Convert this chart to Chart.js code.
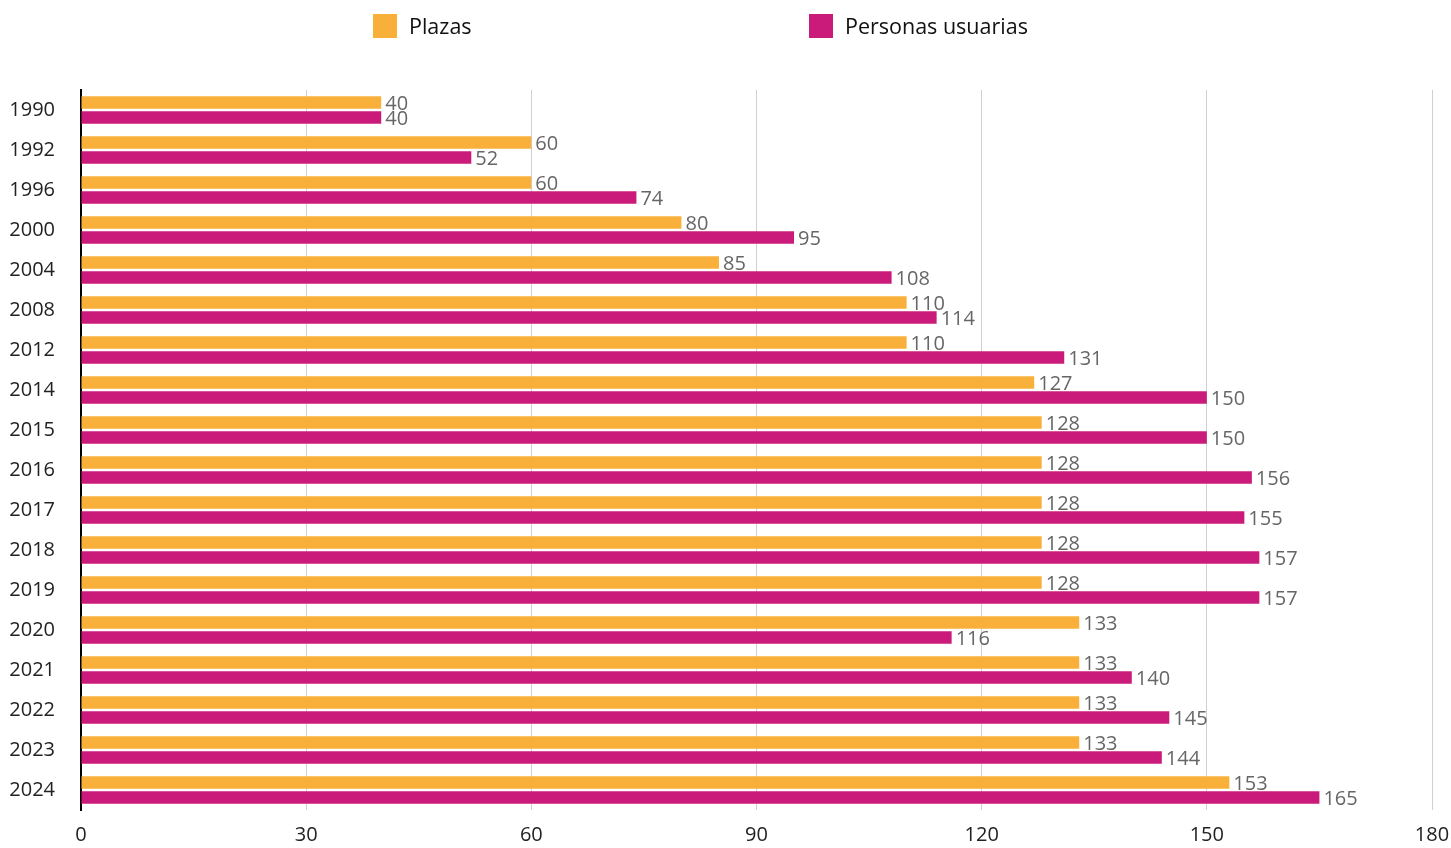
<!DOCTYPE html>
<html>
<head>
<meta charset="utf-8">
<script src="https://cdn.jsdelivr.net/npm/chart.js@4"></script>
<style>
  html, body { margin: 0; padding: 0; background: #fff; }
  #wrap { position: relative; width: 1451px; height: 848px; }
  #legend { position: absolute; top: 0; left: 0; width: 1451px; height: 50px; font-family: "Open Sans", sans-serif; font-size: 21.5px; color: #111; }
  .item { position: absolute; top: 11px; display: flex; align-items: center; }
  .box { width: 24px; height: 24px; margin-right: 12px; }
</style>
</head>
<body>
<div id="wrap">
  <div id="legend">
    <div class="item" style="left:373px"><span class="box" style="background:#F9B03B"></span>Plazas</div>
    <div class="item" style="left:809px"><span class="box" style="background:#CB1B7A"></span>Personas usuarias</div>
  </div>
  <canvas id="chart" width="1451" height="848"></canvas>
</div>
<script>
const years = ["1990", "1992", "1996", "2000", "2004", "2008", "2012", "2014", "2015", "2016", "2017", "2018", "2019", "2020", "2021", "2022", "2023", "2024"];
const plazas = [40, 60, 60, 80, 85, 110, 110, 127, 128, 128, 128, 128, 128, 133, 133, 133, 133, 153];
const personas = [40, 52, 74, 95, 108, 114, 131, 150, 150, 156, 155, 157, 157, 116, 140, 145, 144, 165];
const xTicks = [0, 30, 60, 90, 120, 150, 180];

// draws the value at the end of each bar
const valueLabels = {
    id: "valueLabels",
    afterDatasetsDraw(chart) {
        const ctx = chart.ctx;
        ctx.save();
        ctx.font = "20px 'Open Sans'";
        ctx.fillStyle = "#666";
        ctx.textAlign = "left";
        ctx.textBaseline = "middle";
        chart.data.datasets.forEach((ds, i) => {
            chart.getDatasetMeta(i).data.forEach((bar, j) => {
                ctx.fillText(ds.data[j], bar.x + 4, bar.y + 2);
            });
        });
        ctx.restore();
    }
};

new Chart(document.getElementById("chart"), {
    type: "bar",
    data: {
        labels: years,
        datasets: [
            { label: "Plazas", data: plazas, backgroundColor: "#F9B03B" },
            { label: "Personas usuarias", data: personas, backgroundColor: "#CB1B7A" }
        ]
    },
    options: {
        indexAxis: "y",
        responsive: false,
        animation: false,
        categoryPercentage: 0.76,
        barPercentage: 0.82,
        layout: { padding: { top: 90, right: 19, bottom: 0, left: 10 } },
        plugins: { legend: { display: false }, tooltip: { enabled: false } },
        scales: {
            x: {
                min: 0,
                max: 180,
                afterBuildTicks: scale => { scale.ticks = xTicks.map(v => ({ value: v })); },
                afterFit: scale => { scale.height = 32; scale.paddingRight = 0; scale.paddingLeft = 0; },
                grid: { color: "#d0d0d0", lineWidth: 1, drawTicks: false },
                border: { display: false },
                ticks: { padding: 13, color: "#222", font: { family: "Open Sans", size: 20 } }
            },
            y: {
                afterFit: scale => { scale.width = 71; },
                grid: { display: false, drawTicks: false },
                border: { display: true, color: "#000", width: 2 },
                ticks: { padding: 26, color: "#222", font: { family: "Open Sans", size: 20 } }
            }
        }
    },
    plugins: [valueLabels]
});
</script>
</body>
</html>
